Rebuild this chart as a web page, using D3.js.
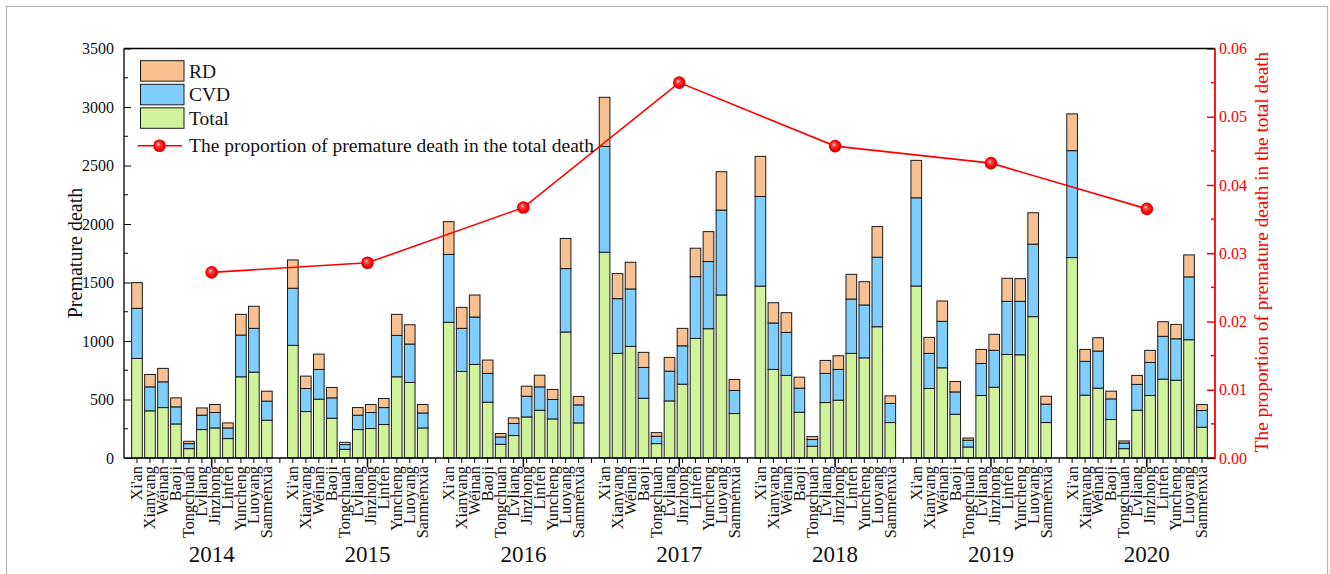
<!DOCTYPE html>
<html>
<head>
<meta charset="utf-8">
<script src="https://cdn.jsdelivr.net/npm/d3@7"></script>
<style>
  html, body { margin: 0; padding: 0; background: #fff; }
  svg { display: block; }
  text { font-family: "Liberation Serif", "Times New Roman", serif; }
</style>
</head>
<body>
<svg id="chart" width="1330" height="574"></svg>
<script>
// Premature deaths by city and year, stacked as Total / CVD / RD segments
const years = ["2014", "2015", "2016", "2017", "2018", "2019", "2020"];
const cities = ["Xi'an", "Xianyang", "Weinan", "Baoji", "Tongchuan", "Lvliang",
                "Jinzhong", "Linfen", "Yuncheng", "Luoyang", "Sanmenxia"];

// one row per year, one value per city
const totalDeaths = [
  [851, 403, 431, 291, 80, 243, 257, 166, 694, 734, 323],
  [963, 397, 503, 340, 74, 243, 252, 286, 694, 646, 257],
  [1160, 740, 800, 477, 117, 192, 351, 408, 334, 1077, 300],
  [1759, 894, 954, 511, 123, 488, 631, 1022, 1105, 1393, 380],
  [1469, 757, 706, 391, 100, 474, 494, 894, 856, 1122, 303],
  [1470, 594, 771, 374, 94, 534, 605, 885, 882, 1208, 303],
  [1713, 537, 597, 329, 80, 408, 534, 674, 665, 1011, 263]
];
const cvdDeaths = [
  [428, 205, 220, 146, 43, 123, 132, 91, 357, 374, 163],
  [488, 197, 254, 174, 41, 123, 137, 145, 354, 328, 128],
  [580, 368, 405, 246, 63, 103, 177, 200, 166, 542, 154],
  [904, 468, 491, 263, 63, 254, 328, 528, 574, 726, 197],
  [766, 397, 368, 206, 58, 249, 263, 465, 452, 594, 163],
  [754, 300, 397, 191, 58, 274, 315, 454, 457, 620, 157],
  [914, 289, 317, 176, 48, 221, 283, 366, 354, 537, 143]
];
const rdDeaths = [
  [220, 106, 115, 77, 20, 62, 68, 43, 177, 189, 85],
  [242, 106, 131, 89, 19, 65, 68, 78, 180, 165, 72],
  [280, 180, 188, 114, 29, 48, 86, 100, 86, 257, 72],
  [420, 214, 228, 129, 31, 118, 149, 243, 256, 328, 94],
  [343, 173, 168, 94, 25, 111, 117, 211, 199, 262, 65],
  [320, 137, 174, 89, 19, 120, 137, 197, 194, 268, 68],
  [314, 102, 114, 66, 18, 77, 103, 125, 123, 188, 51]
];
// proportion of premature death in the total death, per year
const proportion = [0.0272, 0.0286, 0.0367, 0.0550, 0.0457, 0.0432, 0.0365];

const leftTicks = [0, 500, 1000, 1500, 2000, 2500, 3000, 3500];
const rightTicks = [0, 0.01, 0.02, 0.03, 0.04, 0.05, 0.06];

const seriesNames = ["Total", "CVD", "RD"];
const colors = { Total: "#CFF29A", CVD: "#80CEFD", RD: "#F8C192" };

const svg = d3.select("#chart");
const L = 124, R = 1215, T = 48.5, B = 458;

// outer frame
svg.append("rect").attr("x", 6.5).attr("y", 6.5).attr("width", 1321).attr("height", 580)
  .attr("fill", "none").attr("stroke", "#b4b4b4").attr("stroke-width", 1.2);

const slotsPerYear = cities.length + 1;
const x = d3.scaleLinear().domain([0, years.length * slotsPerYear]).range([L, R]);
const y = d3.scaleLinear().domain([0, 3500]).range([B, T]);
const y2 = d3.scaleLinear().domain([0, 0.06]).range([B, T]);

// flatten into stacked rows
const rows = [];
years.forEach((yr, i) => {
  cities.forEach((c, j) => {
    rows.push({ year: yr, city: c, pos: i * slotsPerYear + j + 1,
      Total: totalDeaths[i][j], CVD: cvdDeaths[i][j], RD: rdDeaths[i][j] });
  });
});
const stacked = d3.stack().keys(seriesNames)(rows);

const slotW = x(1) - x(0);
const barW = slotW * 0.82;

const barG = svg.append("g");
stacked.forEach(layer => {
  barG.append("g").selectAll("rect").data(layer).join("rect")
    .attr("x", d => x(d.data.pos) - barW / 2)
    .attr("width", barW)
    .attr("y", d => y(d[1]))
    .attr("height", d => y(d[0]) - y(d[1]))
    .attr("fill", colors[layer.key])
    .attr("stroke", "#1a1a1a")
    .attr("stroke-width", 1);
});

// left axis
const leftAxis = d3.axisLeft(y).tickValues(leftTicks).tickSize(-7).tickPadding(10)
  .tickFormat(d3.format("d"));
const gl = svg.append("g").attr("transform", `translate(${L},0)`).call(leftAxis);
gl.select(".domain").remove();
gl.selectAll("text").attr("font-size", 16).attr("fill", "#111");
gl.selectAll("line").attr("stroke", "#000");
gl.append("g").selectAll("line").data(d3.range(250, 3500, 500)).join("line")
  .attr("x1", 0).attr("x2", 4).attr("y1", d => y(d)).attr("y2", d => y(d)).attr("stroke", "#000");

// right axis
const rightAxis = d3.axisRight(y2).tickValues(rightTicks).tickSize(-8).tickPadding(4)
  .tickFormat(d3.format(".2f"));
const gr = svg.append("g").attr("transform", `translate(${R},0)`).call(rightAxis);
gr.select(".domain").remove();
gr.selectAll("text").attr("font-size", 16).attr("fill", "#ff0000");
gr.selectAll("line").attr("stroke", "#ff0000").attr("stroke-width", 1.5);
gr.append("g").selectAll("line").data(d3.range(0.005, 0.06, 0.01)).join("line")
  .attr("x1", 0).attr("x2", -4).attr("y1", d => y2(d)).attr("y2", d => y2(d))
  .attr("stroke", "#ff0000").attr("stroke-width", 1.5);

// frame lines
svg.append("line").attr("x1", L).attr("x2", R).attr("y1", T).attr("y2", T).attr("stroke", "#000").attr("stroke-width", 1.3);
svg.append("line").attr("x1", L).attr("x2", L).attr("y1", T).attr("y2", B).attr("stroke", "#000").attr("stroke-width", 1.3);
svg.append("line").attr("x1", L).attr("x2", R).attr("y1", B).attr("y2", B).attr("stroke", "#000").attr("stroke-width", 1.3);
svg.append("line").attr("x1", R).attr("x2", R).attr("y1", T).attr("y2", B + 1).attr("stroke", "#ff0000").attr("stroke-width", 1.8);

// x ticks: one per slot, longer ones at year centres
const gx = svg.append("g");
gx.selectAll("line.minor").data(d3.range(1, years.length * slotsPerYear)).join("line")
  .attr("x1", d => x(d)).attr("x2", d => x(d)).attr("y1", B).attr("y2", B + 5)
  .attr("stroke", "#000");
const yearPos = years.map((_, i) => i * slotsPerYear + 6.75);
gx.selectAll("line.major").data(yearPos).join("line")
  .attr("x1", d => x(d)).attr("x2", d => x(d)).attr("y1", B).attr("y2", B + 9)
  .attr("stroke", "#000").attr("stroke-width", 1.5);

// city labels
gx.selectAll("text.city").data(rows).join("text")
  .attr("transform", d => `translate(${x(d.pos)},466) rotate(-90)`)
  .attr("text-anchor", "end").attr("dy", "0.33em")
  .attr("font-size", 16.3).attr("fill", "#111")
  .text(d => d.city);

// year labels
gx.selectAll("text.year").data(years).join("text")
  .attr("x", (d, i) => x(yearPos[i])).attr("y", 562)
  .attr("text-anchor", "middle").attr("font-size", 23).attr("fill", "#111")
  .text(d => d);

// axis titles
svg.append("text").attr("transform", "translate(82,253) rotate(-90)")
  .attr("text-anchor", "middle").attr("font-size", 20).attr("fill", "#111")
  .text("Premature death");
svg.append("text").attr("transform", "translate(1268,252) rotate(-90)")
  .attr("text-anchor", "middle").attr("font-size", 19.3).attr("fill", "#ff0000")
  .text("The proportion of premature death in the total death");

// ball marker gradient
const defs = svg.append("defs");
const grad = defs.append("radialGradient").attr("id", "ball")
  .attr("cx", "50%").attr("cy", "50%").attr("r", "55%").attr("fx", "38%").attr("fy", "35%");
grad.append("stop").attr("offset", "0%").attr("stop-color", "#ffffff");
grad.append("stop").attr("offset", "25%").attr("stop-color", "#ff4a4a");
grad.append("stop").attr("offset", "70%").attr("stop-color", "#f00000");
grad.append("stop").attr("offset", "100%").attr("stop-color", "#c80000");

// proportion line
const line = d3.line().x((d, i) => x(yearPos[i])).y(d => y2(d));
svg.append("path").datum(proportion).attr("d", line)
  .attr("fill", "none").attr("stroke", "#ff0000").attr("stroke-width", 1.6);
svg.append("g").selectAll("circle").data(proportion).join("circle")
  .attr("cx", (d, i) => x(yearPos[i])).attr("cy", d => y2(d)).attr("r", 6.3)
  .attr("fill", "url(#ball)");

// legend
const lg = svg.append("g");
const legendItems = ["RD", "CVD", "Total"];
const boxTop = [60.7, 84.3, 107.8];
legendItems.forEach((k, i) => {
  lg.append("rect").attr("x", 140.5).attr("y", boxTop[i]).attr("width", 43.5).attr("height", 20.5)
    .attr("fill", colors[k]).attr("stroke", "#1a1a1a").attr("stroke-width", 1);
  lg.append("text").attr("x", 189).attr("y", boxTop[i] + 17).attr("font-size", 19.5)
    .attr("fill", "#111").text(k);
});
lg.append("line").attr("x1", 137.5).attr("x2", 182).attr("y1", 145.7).attr("y2", 145.7)
  .attr("stroke", "#ff0000").attr("stroke-width", 1.6);
lg.append("circle").attr("cx", 159.5).attr("cy", 145.7).attr("r", 6.3).attr("fill", "url(#ball)");
lg.append("text").attr("x", 189).attr("y", 152).attr("font-size", 19.5).attr("fill", "#111")
  .text("The proportion of premature death in the total death");
</script>
</body>
</html>
